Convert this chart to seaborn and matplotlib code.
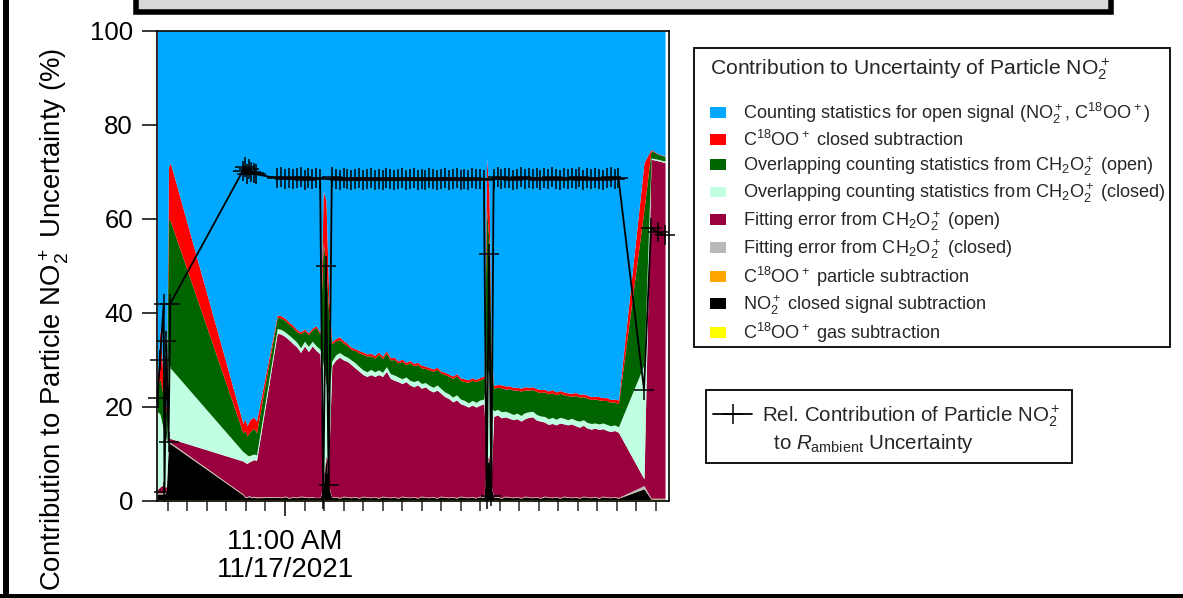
import numpy as np
import matplotlib
matplotlib.use("Agg")
import matplotlib.pyplot as plt
from matplotlib.patches import Patch, Rectangle
from matplotlib.lines import Line2D
import seaborn as sns

# ---------------- data (time in minutes after 10:00 AM, 11/17/2021) ----------------
minutes_after_10am = [
    27.31, 27.95, 28.90, 29.10, 29.56, 30.13, 30.59,
    49.23, 49.74, 50.26, 50.77, 51.28, 52.05, 52.69,
    58, 59, 60, 61, 62, 63, 64, 65, 66, 67, 68, 69,
    69.8, 70.5, 71.2,
    72, 73, 74, 75, 76, 77, 78, 79, 80, 81, 82, 83, 84, 85, 86, 87, 88, 89, 90, 91,
    92, 93, 94, 95, 96, 97, 98, 99, 100, 101, 102, 103, 104, 105, 106, 107, 108, 109, 110, 111,
    111.7, 112.3, 112.9,
    113.5, 114.5, 115.5, 116.5, 117.5, 118.5, 119.5, 120.5, 121.5, 122.5, 123.5, 124.5, 125.5,
    126.5, 127.5, 128.5, 129.5, 130.5, 131.5, 132.5, 133.5, 134.5, 135.5, 136.5, 137.5, 138.5,
    139.5, 140.5, 141.5, 142.5, 143.5, 144.5, 145.5,
    152.05, 153.85, 155.64, 157.44,
]

# C18OO+ gas subtraction (yellow)
gas_subtraction = [
    0.3, 0.3, 0.3, 0.3, 0.3, 0.3, 0.3,
    0.3, 0.3, 0.3, 0.3, 0.3, 0.3, 0.3,
    0.3, 0.3, 0.3, 0.3, 0.3, 0.3, 0.3, 0.3, 0.3, 0.3, 0.3, 0.3,
    0.3, 0.3, 0.3,
    0.3, 0.3, 0.3, 0.3, 0.3, 0.3, 0.3, 0.3, 0.3, 0.3, 0.3, 0.3, 0.3, 0.3, 0.3, 0.3, 0.3, 0.3, 0.3, 0.3,
    0.3, 0.3, 0.3, 0.3, 0.3, 0.3, 0.3, 0.3, 0.3, 0.3, 0.3, 0.3, 0.3, 0.3, 0.3, 0.3, 0.3, 0.3, 0.3, 0.3,
    0.3, 0.3, 0.3,
    0.3, 0.3, 0.3, 0.3, 0.3, 0.3, 0.3, 0.3, 0.3, 0.3, 0.3, 0.3, 0.3,
    0.3, 0.3, 0.3, 0.3, 0.3, 0.3, 0.3, 0.3, 0.3, 0.3, 0.3, 0.3, 0.3,
    0.3, 0.3, 0.3, 0.3, 0.3, 0.3, 0.3,
    0.3, 0.3, 0.3, 0.3,
]

# NO2+ closed signal subtraction (black)
no2_closed_signal = [
    1.2, 1.2, 1.2, 1.2, 1.7, 12.2, 11.9,
    1.0, 0.5, 0.4, 0.7, 0.4, 0.5, 0.4,
    0.5, 0.4, 0.6, 0.3, 0.5, 0.4, 0.6, 0.5, 0.4, 0.5, 0.3, 0.4,
    2.7, 8.7, 2.7,
    0.4, 0.5, 0.3, 0.6, 0.45, 0.4, 0.5, 0.3, 0.6, 0.45, 0.4, 0.5, 0.3, 0.6, 0.45, 0.4, 0.5, 0.3, 0.6, 0.45,
    0.4, 0.5, 0.3, 0.6, 0.45, 0.4, 0.5, 0.3, 0.6, 0.45, 0.4, 0.5, 0.3, 0.6, 0.45, 0.4, 0.5, 0.3, 0.6, 0.45,
    7.2, 8.9, 2.7,
    0.4, 0.5, 0.3, 0.6, 0.45, 0.4, 0.5, 0.3, 0.6, 0.45, 0.4, 0.5, 0.3,
    0.6, 0.45, 0.4, 0.5, 0.3, 0.6, 0.45, 0.4, 0.5, 0.3, 0.6, 0.45, 0.4,
    0.5, 0.3, 0.6, 0.45, 0.4, 0.5, 0.3,
    2.3, 0.1, 0.1, 0.1,
]

# C18OO+ particle subtraction (orange)
particle_subtraction = [
    0.05, 0.05, 0.05, 0.05, 0.05, 0.05, 0.05,
    0.05, 0.05, 0.05, 0.05, 0.05, 0.05, 0.05,
    0.05, 0.05, 0.05, 0.05, 0.05, 0.05, 0.05, 0.05, 0.05, 0.05, 0.05, 0.05,
    0.05, 0.05, 0.05,
    0.05, 0.05, 0.05, 0.05, 0.05, 0.05, 0.05, 0.05, 0.05, 0.05, 0.05, 0.05, 0.05, 0.05, 0.05, 0.05, 0.05, 0.05, 0.05, 0.05,
    0.05, 0.05, 0.05, 0.05, 0.05, 0.05, 0.05, 0.05, 0.05, 0.05, 0.05, 0.05, 0.05, 0.05, 0.05, 0.05, 0.05, 0.05, 0.05, 0.05,
    0.05, 0.05, 0.05,
    0.05, 0.05, 0.05, 0.05, 0.05, 0.05, 0.05, 0.05, 0.05, 0.05, 0.05, 0.05, 0.05,
    0.05, 0.05, 0.05, 0.05, 0.05, 0.05, 0.05, 0.05, 0.05, 0.05, 0.05, 0.05, 0.05,
    0.05, 0.05, 0.05, 0.05, 0.05, 0.05, 0.05,
    0.05, 0.05, 0.05, 0.05,
]

# Fitting error from CH2O2+ (closed) (grey)
fit_error_closed = [
    0.2, 0.2, 0.2, 0.2, 0.2, 0.25, 0.25,
    0.15, 0.15, 0.15, 0.15, 0.15, 0.15, 0.15,
    0.1, 0.1, 0.1, 0.1, 0.1, 0.1, 0.1, 0.1, 0.1, 0.1, 0.1, 0.1,
    0.25, 0.25, 0.25,
    0.1, 0.1, 0.1, 0.1, 0.1, 0.1, 0.1, 0.1, 0.1, 0.1, 0.1, 0.1, 0.1, 0.1, 0.1, 0.1, 0.1, 0.1, 0.1, 0.1,
    0.1, 0.1, 0.1, 0.1, 0.1, 0.1, 0.1, 0.1, 0.1, 0.1, 0.1, 0.1, 0.1, 0.1, 0.1, 0.1, 0.1, 0.1, 0.1, 0.1,
    0.25, 0.25, 0.25,
    0.1, 0.1, 0.1, 0.1, 0.1, 0.1, 0.1, 0.1, 0.1, 0.1, 0.1, 0.1, 0.1,
    0.1, 0.1, 0.1, 0.1, 0.1, 0.1, 0.1, 0.1, 0.1, 0.1, 0.1, 0.1, 0.1,
    0.1, 0.1, 0.1, 0.1, 0.1, 0.1, 0.1,
    0.65, 0.15, 0.15, 0.15,
]

# Fitting error from CH2O2+ (open) (maroon)
fit_error_open = [
    0.75, 1.25, 1.75, 1.25, 0.75, 0.5, 0.8,
    7.0, 7.2, 7.1, 7.1, 7.6, 7.8, 7.7,
    34.75, 34.65, 33.95, 33.55, 32.55, 31.95, 30.55, 32.05, 30.95, 32.05, 31.25, 30.45,
    1.7, 0.3, 4.7,
    27.95, 29.05, 29.85, 28.95, 28.8, 28.15, 27.35, 26.85, 25.85, 25.6,
    26.05, 25.55, 26.15, 25.45, 26.7, 25.25, 24.75, 24.65, 23.95, 24.5,
    23.85, 23.35, 23.95, 22.95, 23.4, 22.75, 22.25, 22.85, 21.85, 21.3,
    20.95, 20.15, 20.75, 19.65, 19.5, 19.15, 19.45, 19.25, 19.35, 19.8,
    0.7, 0.3, 2.7,
    17.15, 17.35, 16.95, 16.85, 16.7, 16.45, 16.55, 16.25, 16.45, 16.9, 17.05,
    16.25, 16.25, 15.75, 15.4, 15.65, 15.25, 15.85, 15.35, 15.3, 15.55, 15.05,
    14.95, 15.05, 14.6, 14.45, 14.55, 14.45, 14.35, 14.1, 13.95, 14.05, 13.85,
    1.4, 72.1, 71.8, 71.4,
]

# Overlapping counting statistics from CH2O2+ (closed) (mint)
overlap_closed = [
    16.5, 15.5, 11.5, 11.0, 10.0, 16.7, 15.0,
    2.0, 2.0, 1.8, 1.3, 1.3, 1.2, 1.2,
    1.0, 1.0, 1.0, 1.0, 1.1, 1.0, 1.0, 1.0, 1.1, 1.0, 1.0, 1.0,
    24.0, 15.4, 14.0,
    1.0, 1.1, 1.0, 1.0, 0.9, 1.0, 1.1, 1.0, 1.0, 1.0,
    1.1, 1.0, 1.0, 0.9, 1.0, 1.0, 1.1, 1.0, 1.0, 1.0,
    1.0, 1.1, 1.0, 1.0, 0.9, 1.0, 1.0, 1.1, 1.0, 1.0,
    1.0, 1.0, 1.1, 1.0, 1.0, 0.9, 1.0, 1.0, 1.1, 1.0,
    20.5, 17.2, 14.0,
    1.2, 1.2, 1.3, 1.2, 1.2, 1.1, 1.2, 1.2, 1.3, 1.2, 1.2,
    1.2, 1.1, 1.2, 1.2, 1.3, 1.2, 1.2, 1.2, 1.1, 1.2, 1.2,
    1.3, 1.2, 1.2, 1.2, 1.1, 1.2, 1.2, 1.3, 1.2, 1.2, 1.2,
    24.3, 0.3, 0.3, 0.3,
]

# Overlapping counting statistics from CH2O2+ (open) (dark green)
overlap_open = [
    5.5, 7.5, 7.0, 6.0, 6.0, 30.0, 31.3,
    4.0, 4.8, 4.0, 4.9, 5.2, 5.5, 4.7,
    2.4, 2.4, 2.4, 2.3, 2.3, 2.2, 3.0, 2.2, 2.5, 2.4, 3.9, 3.2,
    26.0, 25.0, 18.0,
    3.6, 3.0, 2.7, 2.6, 2.4, 2.2, 2.6, 2.9, 3.3, 3.3,
    2.9, 2.9, 3.3, 2.9, 2.9, 2.9, 3.3, 3.0, 3.7, 2.6,
    3.7, 3.4, 3.3, 3.3, 3.0, 3.3, 3.4, 3.3, 3.3, 3.7,
    3.7, 4.0, 4.0, 4.0, 4.0, 4.4, 4.3, 4.4, 4.3, 4.4,
    33.0, 28.0, 10.0,
    4.8, 4.7, 5.1, 4.7, 5.1, 5.2, 4.9, 5.2, 4.8, 4.6, 4.6,
    4.9, 5.0, 5.2, 5.3, 5.2, 5.2, 5.1, 5.0, 5.1, 4.7, 5.2,
    5.1, 4.9, 5.2, 5.1, 5.1, 5.1, 4.8, 5.1, 5.0, 4.9, 4.9,
    33.0, 1.6, 1.1, 1.0,
]

# C18OO+ closed subtraction (red)
c18oo_closed = [
    0.5, 11.0, 2.0, 1.0, 1.0, 11.0, 12.4,
    2.0, 2.5, 2.2, 2.5, 2.5, 2.3, 2.5,
    0.5, 0.5, 0.5, 0.5, 0.5, 0.5, 0.4, 0.4, 0.4, 0.4, 0.4, 0.4,
    11.0, 14.0, 4.0,
    0.5, 0.5, 0.6, 0.5, 0.5, 0.5, 0.4, 0.5, 0.5, 0.5,
    0.5, 0.6, 0.5, 0.5, 0.5, 0.5, 0.5, 0.4, 0.5, 0.5,
    0.5, 0.5, 0.5, 0.6, 0.5, 0.5, 0.5, 0.5, 0.4, 0.5,
    0.5, 0.5, 0.5, 0.5, 0.6, 0.5, 0.5, 0.5, 0.5, 0.5,
    11.0, 11.0, 2.0,
    0.6, 0.6, 0.6, 0.7, 0.6, 0.6, 0.6, 0.6, 0.7, 0.6, 0.6,
    0.6, 0.6, 0.6, 0.6, 0.7, 0.6, 0.6, 0.6, 0.6, 0.6, 0.7,
    0.6, 0.6, 0.6, 0.6, 0.6, 0.7, 0.6, 0.6, 0.6, 0.6, 0.8,
    10.0, 0.2, 0.1, 0.1,
]

# Rel. contribution of particle NO2+ to R_ambient uncertainty (black line, %)
rel_contribution = [
    22.0, 30.0, 42.0, 2.0, 34.0, 12.6, 42.0,
    70.3, 71.0, 69.6, 70.6, 70.0, 69.8, 69.5,
    68.7, 68.9, 68.6, 68.8, 68.5, 68.7, 68.9, 68.4, 68.7, 68.6, 68.8, 68.5,
    0.5, 50.0, 3.5,
    68.9, 68.6, 68.4, 68.7, 68.5, 68.3, 68.6, 68.8, 68.4, 68.5,
    68.7, 68.3, 68.6, 68.4, 68.8, 68.5, 68.3, 68.6, 68.7, 68.4,
    68.5, 68.8, 68.3, 68.6, 68.4, 68.7, 68.5, 68.3, 68.6, 68.8,
    68.4, 68.5, 68.7, 68.3, 68.6, 68.4, 68.8, 68.5, 68.6, 68.4,
    0.5, 52.5, 1.0,
    68.6, 68.9, 68.5, 68.7, 68.8, 68.4, 68.6, 68.9, 68.5, 68.7, 68.6,
    68.8, 68.4, 68.7, 68.5, 68.9, 68.6, 68.4, 68.8, 68.5, 68.7, 68.6,
    68.9, 68.4, 68.7, 68.5, 68.8, 68.6, 68.4, 68.7, 68.9, 68.5, 68.7,
    23.7, 58.0, 57.2, 56.5,
]

area_labels = [
    "Counting statistics for open signal (NO$_2^+$, C$^{18}$OO$^+$)",
    "C$^{18}$OO$^+$ closed subtraction",
    "Overlapping counting statistics from CH$_2$O$_2^+$ (open)",
    "Overlapping counting statistics from CH$_2$O$_2^+$ (closed)",
    "Fitting error from CH$_2$O$_2^+$ (open)",
    "Fitting error from CH$_2$O$_2^+$ (closed)",
    "C$^{18}$OO$^+$ particle subtraction",
    "NO$_2^+$ closed signal subtraction",
    "C$^{18}$OO$^+$ gas subtraction",
]
area_colors = ["#00a9ff", "#ff0000", "#006400", "#c0ffe1", "#99003d",
               "#b9b9b9", "#ffa500", "#000000", "#ffff00"]
legend_title = "Contribution to Uncertainty of Particle NO$_2^+$"
line_label_1 = "Rel. Contribution of Particle NO$_2^+$"
line_label_2 = "  to $R_{\\mathrm{ambient}}$ Uncertainty"
y_label = "Contribution to Particle NO$_2^+$ Uncertainty (%)"
major_tick_minutes = [60]
major_tick_labels = ["11:00 AM\n11/17/2021"]
minor_tick_minutes = [30, 35, 40, 45, 50, 55, 65, 70, 75, 80, 85, 90, 95, 100, 105,
                      110, 115, 120, 125, 130, 135, 140, 145, 150, 155]

# ---------------- styling ----------------
sns.set_style("ticks")
plt.rcParams["font.family"] = ["Liberation Sans", "DejaVu Sans"]
plt.rcParams["mathtext.fontset"] = "custom"
plt.rcParams["mathtext.rm"] = "Liberation Sans"
plt.rcParams["mathtext.it"] = "Liberation Sans:italic"
plt.rcParams["mathtext.bf"] = "Liberation Sans:bold"
plt.rcParams["axes.unicode_minus"] = False

W, H = 1183, 598
fig = plt.figure(figsize=(W / 100, H / 100), dpi=100)
fig.patch.set_facecolor("white")
ax = fig.add_axes([157 / W, 1 - 501 / H, 512 / W, 470 / H])

t = np.asarray(minutes_after_10am, dtype=float)
stack_bottom_up = [gas_subtraction, no2_closed_signal, particle_subtraction, fit_error_closed,
                   fit_error_open, overlap_closed, overlap_open, c18oo_closed]
stack_arr = np.array(stack_bottom_up, dtype=float)
counting_open = 100.0 - stack_arr.sum(axis=0)
series = list(stack_arr) + [counting_open]
colors_bottom_up = list(reversed(area_colors))
ax.stackplot(t, *series, colors=colors_bottom_up, linewidth=0)

sns.lineplot(x=t, y=np.asarray(rel_contribution), ax=ax, color="black", lw=1.3,
             marker="+", markersize=14, markeredgewidth=1.1, markeredgecolor="black",
             sort=False, legend=False, clip_on=False, zorder=5)

ax.set_xlim(27.18, 158.46)
ax.set_ylim(0, 100)
ax.set_yticks([0, 20, 40, 60, 80, 100])
ax.set_xticks(major_tick_minutes, labels=major_tick_labels)
ax.set_xticks(minor_tick_minutes, minor=True)
ax.tick_params(axis="y", which="major", direction="out", length=10.8, width=1.1,
               labelsize=18.5, pad=6.5, colors="black")
ax.tick_params(axis="x", which="major", direction="out", length=11, width=1.1,
               labelsize=20, pad=9, colors="black")
ax.tick_params(axis="x", which="minor", direction="out", length=7.5, width=1.1)
for lab in ax.get_xticklabels():
    lab.set_linespacing(1.1)
for s in ax.spines.values():
    s.set_color("black")
    s.set_linewidth(1.2)
    s.set_visible(True)
ax.set_xlabel("")
ax.set_ylabel(y_label, fontsize=19.8, color="black")
ax.yaxis.label.set_verticalalignment("center")
ax.yaxis.set_label_coords(-0.2, 0.387)

# ---------------- legends ----------------
handles = [Patch(facecolor=c, edgecolor="none") for c in area_colors]
leg1 = fig.legend(handles, area_labels, loc="upper left",
                  bbox_to_anchor=(710 / W, 1 - 56 / H), bbox_transform=fig.transFigure,
                  title=legend_title + "\n", title_fontsize=15.2, fontsize=13.1,
                  frameon=False, handlelength=0.87, handleheight=0.54, handletextpad=0.92,
                  labelspacing=0.22, borderpad=0, borderaxespad=0, alignment="left")
leg1.get_title().set_linespacing(0.75)
fig.add_artist(Rectangle((694 / W, 1 - 347 / H), (1170 - 694) / W, (347 - 48) / H,
                         transform=fig.transFigure, facecolor="none",
                         edgecolor="black", linewidth=1.3))

line_handle = Line2D([], [], color="black", lw=1.3, marker="+", markersize=14,
                     markeredgewidth=1.1)
blank_handle = Line2D([], [], color="none")
leg2 = fig.legend([line_handle, blank_handle], [line_label_1, line_label_2], loc="upper left",
                  bbox_to_anchor=(713 / W, 1 - 403 / H), bbox_transform=fig.transFigure,
                  fontsize=14.8, frameon=False, handlelength=1.9, handletextpad=0.5,
                  labelspacing=0.18, borderpad=0, borderaxespad=0)
fig.add_artist(Rectangle((706 / W, 1 - 463 / H), (1072 - 706) / W, (463 - 390) / H,
                         transform=fig.transFigure, facecolor="none",
                         edgecolor="black", linewidth=1.3))

# ---------------- surrounding frame pieces ----------------
fig.add_artist(Rectangle((135.5 / W, 1 - 12 / H), (1110.5 - 135.5) / W, 40 / H,
                         transform=fig.transFigure, facecolor="#d9d9d9",
                         edgecolor="black", linewidth=4, clip_on=False))
fig.add_artist(Rectangle((3 / W, 0), 6 / W, 1, transform=fig.transFigure,
                         facecolor="black", edgecolor="none"))
fig.add_artist(Rectangle((0, 0), 1, 4 / H, transform=fig.transFigure,
                         facecolor="black", edgecolor="none"))

fig.savefig("out.png", dpi=100)
